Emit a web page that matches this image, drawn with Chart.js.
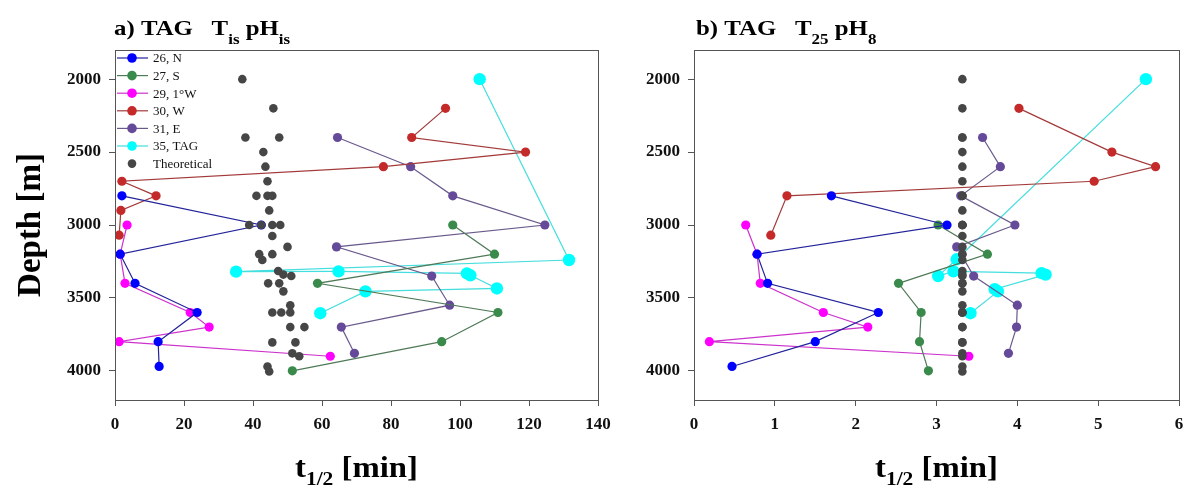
<!DOCTYPE html>
<html>
<head>
<meta charset="utf-8">
<script src="https://cdn.jsdelivr.net/npm/chart.js@4/dist/chart.umd.min.js"></script>
<style>
  body { margin: 0; background: #fff; }
  canvas { position: absolute; top: 0; }
</style>
</head>
<body>
<canvas id="chartA" width="640" height="488" style="left:0"></canvas>
<canvas id="chartB" width="576" height="488" style="left:610px"></canvas>
<script>
// depths [m] and half-lives t1/2 [min]; "_a" = panel a (Tis pHis), "_b" = panel b (T25 pH8)
var depthN = [2800, 3000, 3200, 3400, 3600, 3800, 3970];
var tN_a = [2.0, 42.4, 1.5, 5.8, 23.8, 12.5, 12.8];
var tN_b = [1.70, 3.13, 0.78, 0.91, 2.28, 1.50, 0.47];

var depthS = [3000, 3200, 3400, 3600, 3800, 4000];
var tS_a = [97.9, 110, 58.7, 111, 94.7, 51.4];
var tS_b = [3.02, 3.63, 2.53, 2.81, 2.79, 2.90];

var depth1W = [3000, 3200, 3400, 3600, 3700, 3800, 3900];
var t1W_a = [3.5, 1.5, 2.9, 21.8, 27.3, 1.2, 62.4];
var t1W_b = [0.64, 0.78, 0.82, 1.60, 2.15, 0.19, 3.40];

var depthW_a = [2200, 2400, 2500, 2600, 2700, 2800, 2900, 3070];
var tW_a = [95.8, 86, 119, 77.8, 2.0, 11.9, 1.7, 1.2];
var depthW_b = [2200, 2500, 2600, 2700, 2800, 3070];
var tW_b = [4.02, 5.17, 5.71, 4.95, 1.15, 0.95];

var depthE = [2400, 2600, 2800, 3000, 3150, 3350, 3550, 3700, 3880];
var tE_a = [64.5, 85.7, 97.9, 124.6, 64.2, 91.8, 97.0, 65.6, 69.4];
var tE_b = [3.57, 3.79, 3.30, 3.97, 3.25, 3.46, 4.00, 3.99, 3.89];

var depthTAG_a = [2000, 3240, 3320, 3318, 3332, 3345, 3435, 3455, 3605];
var tTAG_a = [105.7, 131.6, 35.1, 64.8, 102.0, 103.0, 110.7, 72.6, 59.5];
var depthTAG_b = [2000, 3235, 3350, 3318, 3330, 3340, 3440, 3455, 3605];
var tTAG_b = [5.59, 3.25, 3.02, 3.21, 4.30, 4.35, 3.72, 3.76, 3.42];

var depthTh = [2000, 2200, 2400, 2400, 2500, 2600, 2700, 2800, 2800, 2800, 2900, 3000, 3000, 3000, 3000,
  3075, 3150, 3200, 3200, 3240, 3315, 3340, 3350, 3400, 3400, 3455, 3550, 3600, 3600, 3600,
  3700, 3700, 3805, 3805, 3880, 3900, 3970, 4005];
var tTh_a = [36.9, 45.9, 37.8, 47.6, 43.0, 43.6, 44.2, 41.0, 44.2, 45.6, 44.7, 38.9, 42.4, 45.6, 47.9,
  45.6, 50.0, 41.8, 45.6, 42.7, 47.3, 48.8, 51.1, 44.4, 47.6, 48.8, 50.8, 45.6, 48.2, 50.8,
  50.8, 54.9, 45.6, 52.3, 51.4, 53.4, 44.2, 44.7];
var tTh_b = [3.32, 3.32, 3.32, 3.32, 3.32, 3.32, 3.32, 3.32, 3.32, 3.32, 3.32, 3.32, 3.32, 3.32, 3.32,
  3.32, 3.32, 3.32, 3.32, 3.32, 3.32, 3.32, 3.32, 3.32, 3.32, 3.32, 3.32, 3.32, 3.32, 3.32,
  3.32, 3.32, 3.32, 3.32, 3.32, 3.32, 3.32, 3.32];

var labels = ['26, N', '27, S', '29, 1\u00b0W', '30, W', '31, E', '35, TAG', 'Theoretical'];
var depthTicks = [2000, 2500, 3000, 3500, 4000];

var serif = "'Liberation Serif', 'Times New Roman', serif";
var axisGrey = '#555';
var stretch = 1.13;  // the titles in the original are a bit wide

function pts(xs, ys) {
  return xs.map(function(x, i) { return {x: x, y: ys[i]}; });
}

function series(label, data, marker, line, r) {
  return {
    label: label, data: data, showLine: true, order: 1,
    borderColor: line, borderWidth: 1.2,
    pointBackgroundColor: marker, pointBorderColor: marker,
    pointRadius: r || 4.6, pointBorderWidth: 0
  };
}

function theoretical(data) {
  return {
    label: labels[6], data: data, showLine: false, order: 0,
    pointBackgroundColor: '#464646', pointBorderColor: '#464646',
    pointRadius: 4.3, pointBorderWidth: 0
  };
}

// draw text pieces with subscripts, stretched horizontally
function richText(ctx, parts, x, y, big, small, align, subDrop) {
  var w = 0;
  parts.forEach(function(p) {
    ctx.font = 'bold ' + (p.sub ? small : big) + 'px ' + serif;
    w += ctx.measureText(p.t).width;
  });
  var cx = align === 'center' ? -w / 2 : 0;
  ctx.save();
  ctx.translate(x, y);
  ctx.scale(stretch, 1);
  ctx.fillStyle = '#000';
  ctx.textBaseline = 'alphabetic';
  ctx.textAlign = 'left';
  parts.forEach(function(p) {
    ctx.font = 'bold ' + (p.sub ? small : big) + 'px ' + serif;
    ctx.fillText(p.t, cx, p.sub ? subDrop : 0);
    cx += ctx.measureText(p.t).width;
  });
  ctx.restore();
}

var framePlugin = {
  id: 'frame',
  afterDraw: function(chart, args, opts) {
    var ctx = chart.ctx, a = chart.chartArea;
    ctx.save();
    ctx.strokeStyle = axisGrey;
    ctx.lineWidth = 1;
    ctx.strokeRect(a.left + 0.5, a.top + 0.5, a.right - a.left, a.bottom - a.top);
    // panel title
    richText(ctx, opts.title, opts.titleX, 35, 22, 15, 'left', 9);
    // x axis title
    richText(ctx, [{t: 't'}, {t: '1/2', sub: true}, {t: ' [min]'}], (a.left + a.right) / 2, 477, 29, 19, 'center', 8);
    // y axis title
    if (opts.yTitle) {
      ctx.translate(31, (a.top + a.bottom) / 2);
      ctx.rotate(-Math.PI / 2);
      ctx.font = 'bold 33px ' + serif;
      ctx.textAlign = 'center';
      ctx.textBaseline = 'middle';
      ctx.fillStyle = '#000';
      ctx.fillText(opts.yTitle, 0, 0);
      ctx.setTransform(1, 0, 0, 1, 0, 0);
    }
    // legend
    if (opts.legend) {
      ctx.font = '13px ' + serif;
      ctx.textBaseline = 'middle';
      ctx.textAlign = 'left';
      chart.data.datasets.forEach(function(ds, i) {
        var y = 58 + i * 17.6;
        if (ds.showLine) {
          ctx.strokeStyle = ds.borderColor;
          ctx.lineWidth = 1.2;
          ctx.beginPath();
          ctx.moveTo(a.left + 2, y);
          ctx.lineTo(a.left + 33, y);
          ctx.stroke();
        }
        ctx.fillStyle = ds.pointBackgroundColor;
        ctx.beginPath();
        ctx.arc(a.left + 17, y, ds.showLine ? 4.8 : 4.3, 0, Math.PI * 2);
        ctx.fill();
        ctx.fillStyle = '#111';
        ctx.fillText(ds.label, a.left + 38, y + 1);
      });
    }
    ctx.restore();
  }
};

function makeChart(id, datasets, xMax, xStep, yWidth, padRight, frameOpts) {
  return new Chart(document.getElementById(id), {
    type: 'scatter',
    data: {datasets: datasets},
    options: {
      responsive: false,
      animation: false,
      layout: {padding: {top: 50, right: padRight, left: 0, bottom: 0}},
      plugins: {legend: {display: false}, tooltip: {enabled: false}, frame: frameOpts},
      scales: {
        x: {
          type: 'linear', min: 0, max: xMax,
          afterFit: function(s) { s.height = 88; s.paddingLeft = 0; s.paddingRight = 0; },
          border: {color: axisGrey},
          grid: {drawOnChartArea: false, drawTicks: true, tickLength: 6, color: axisGrey},
          ticks: {stepSize: xStep, autoSkip: false, padding: 8, color: '#111',
                  font: {family: serif, size: 17, weight: 'bold'}}
        },
        y: {
          type: 'linear', min: 1800, max: 4200, reverse: true,
          afterFit: function(s) { s.width = yWidth; s.paddingTop = 0; s.paddingBottom = 0; },
          afterBuildTicks: function(s) { s.ticks = depthTicks.map(function(v) { return {value: v}; }); },
          border: {color: axisGrey},
          grid: {drawOnChartArea: false, drawTicks: true, tickLength: 6, color: axisGrey},
          ticks: {padding: 8, color: '#111', font: {family: serif, size: 17, weight: 'bold'},
                  callback: function(v) { return String(v); }}
        }
      }
    },
    plugins: [framePlugin]
  });
}

var C = {
  N: ['#0000ff', '#22229a'], S: ['#3a8a4c', '#4f7a58'], W1: ['#ff00ff', '#cc33cc'],
  W: ['#c42a2a', '#a33a3a'], E: ['#654a9a', '#6a5a8c'], TAG: ['#00ffff', '#45dede']
};

makeChart('chartA', [
  series(labels[0], pts(tN_a, depthN), C.N[0], C.N[1]),
  series(labels[1], pts(tS_a, depthS), C.S[0], C.S[1]),
  series(labels[2], pts(t1W_a, depth1W), C.W1[0], C.W1[1]),
  series(labels[3], pts(tW_a, depthW_a), C.W[0], C.W[1]),
  series(labels[4], pts(tE_a, depthE), C.E[0], C.E[1]),
  series(labels[5], pts(tTAG_a, depthTAG_a), C.TAG[0], C.TAG[1], 6.2),
  theoretical(pts(tTh_a, depthTh))
], 140, 20, 115, 42, {
  title: [{t: 'a) TAG   T'}, {t: 'is', sub: true}, {t: ' pH'}, {t: 'is', sub: true}],
  titleX: 114, yTitle: 'Depth [m]', legend: true
});

makeChart('chartB', [
  series(labels[0], pts(tN_b, depthN), C.N[0], C.N[1]),
  series(labels[1], pts(tS_b, depthS), C.S[0], C.S[1]),
  series(labels[2], pts(t1W_b, depth1W), C.W1[0], C.W1[1]),
  series(labels[3], pts(tW_b, depthW_b), C.W[0], C.W[1]),
  series(labels[4], pts(tE_b, depthE), C.E[0], C.E[1]),
  series(labels[5], pts(tTAG_b, depthTAG_b), C.TAG[0], C.TAG[1], 6.2),
  theoretical(pts(tTh_b, depthTh))
], 6, 1, 84, 7, {
  title: [{t: 'b) TAG   T'}, {t: '25', sub: true}, {t: ' pH'}, {t: '8', sub: true}],
  titleX: 86, legend: false
});
</script>
</body>
</html>
